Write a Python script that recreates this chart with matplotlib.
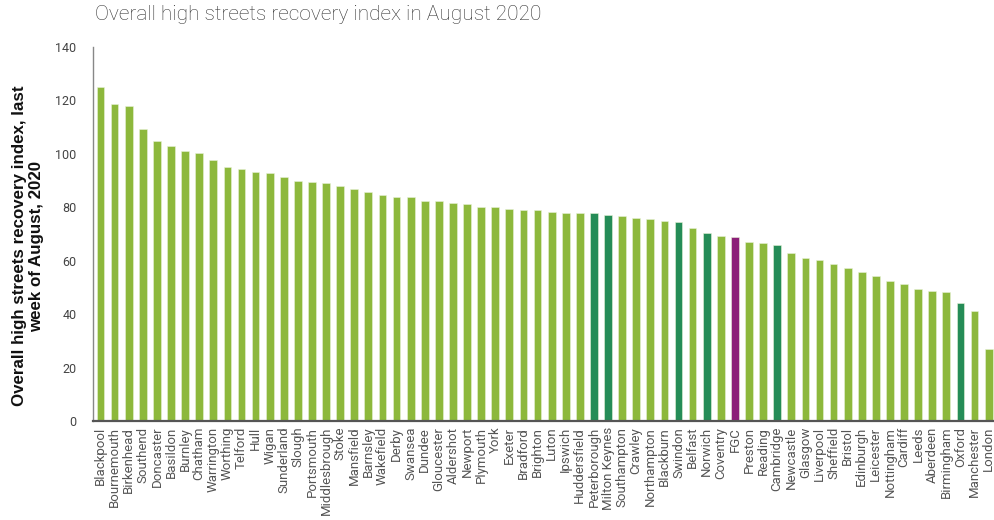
import matplotlib
matplotlib.use("Agg")
import matplotlib.pyplot as plt

towns = [
    "Blackpool", "Bournemouth", "Birkenhead", "Southend", "Doncaster", "Basildon",
    "Burnley", "Chatham", "Warrington", "Worthing", "Telford", "Hull", "Wigan",
    "Sunderland", "Slough", "Portsmouth", "Middlesbrough", "Stoke", "Mansfield",
    "Barnsley", "Wakefield", "Derby", "Swansea", "Dundee", "Gloucester", "Aldershot",
    "Newport", "Plymouth", "York", "Exeter", "Bradford", "Brighton", "Luton",
    "Ipswich", "Huddersfield", "Peterborough", "Milton Keynes", "Southampton",
    "Crawley", "Northampton", "Blackburn", "Swindon", "Belfast", "Norwich",
    "Coventry", "FGC", "Preston", "Reading", "Cambridge", "Newcastle", "Glasgow",
    "Liverpool", "Sheffield", "Bristol", "Edinburgh", "Leicester", "Nottingham",
    "Cardiff", "Leeds", "Aberdeen", "Birmingham", "Oxford", "Manchester", "London",
]

index = [
    125.1, 118.6, 118.1, 109.5, 104.8, 102.9, 101.2, 100.4, 97.8, 95.1, 94.5,
    93.3, 92.8, 91.3, 90.0, 89.5, 89.1, 88.0, 86.8, 85.8, 84.8, 84.0, 84.0, 82.5,
    82.3, 81.8, 81.3, 80.3, 80.0, 79.3, 79.1, 78.9, 78.4, 78.0, 78.0, 77.8, 77.3,
    76.8, 76.0, 75.7, 74.9, 74.4, 72.2, 70.5, 69.2, 68.8, 67.2, 66.8, 65.9, 62.9,
    60.9, 60.2, 58.8, 57.3, 55.7, 54.3, 52.3, 51.3, 49.6, 48.6, 48.2, 44.1, 41.1,
    27.1,
]

highlight = ["Peterborough", "Milton Keynes", "Swindon", "Norwich", "Cambridge", "Oxford"]
focus = "FGC"

LIGHT = "#8db83c"
DARK = "#258c57"
PURPLE = "#8c1f78"

colors = []
for t in towns:
    if t == focus:
        colors.append(PURPLE)
    elif t in highlight:
        colors.append(DARK)
    else:
        colors.append(LIGHT)

fig = plt.figure(figsize=(9.94, 5.2), dpi=100)
ax = fig.add_axes([0.0936, 0.19, 0.9074, 0.7196])

x = range(len(towns))
ax.bar(x, index, width=0.55, color=colors, edgecolor="#e8f2d8", linewidth=0.4, zorder=2)

ax.set_xlim(-0.53, len(towns) - 0.55)
ax.set_ylim(0, 140)
ax.set_yticks(range(0, 141, 20))
ax.set_xticks(list(x))
ax.set_xticklabels(towns, rotation=90, fontsize=9.5, family="Roboto", color="#555555")
ax.tick_params(axis="y", length=0, pad=12, labelsize=9, labelcolor="#444444")
ax.tick_params(axis="x", length=0, pad=4)
for lab in ax.get_yticklabels():
    lab.set_family("Roboto")

for s in ["top", "right"]:
    ax.spines[s].set_visible(False)
ax.spines["left"].set_color("#888888")
ax.spines["left"].set_linewidth(1.0)
ax.spines["bottom"].set_color("#555555")
ax.spines["bottom"].set_linewidth(1.6)

fig.text(0.0956, 0.972, "Overall high streets recovery index in August 2020",
         fontsize=15, family="Roboto", fontweight="light", color="#333333",
         ha="left", va="center")

fig.text(0.028, 0.527, "Overall high streets recovery index, last\nweek of August, 2020",
         rotation=90, fontsize=12.2, family="Liberation Sans", fontweight="bold",
         color="#111111", ha="center", va="center", multialignment="center",
         linespacing=1.15)

plt.savefig("out.png", dpi=100)
plt.close()
